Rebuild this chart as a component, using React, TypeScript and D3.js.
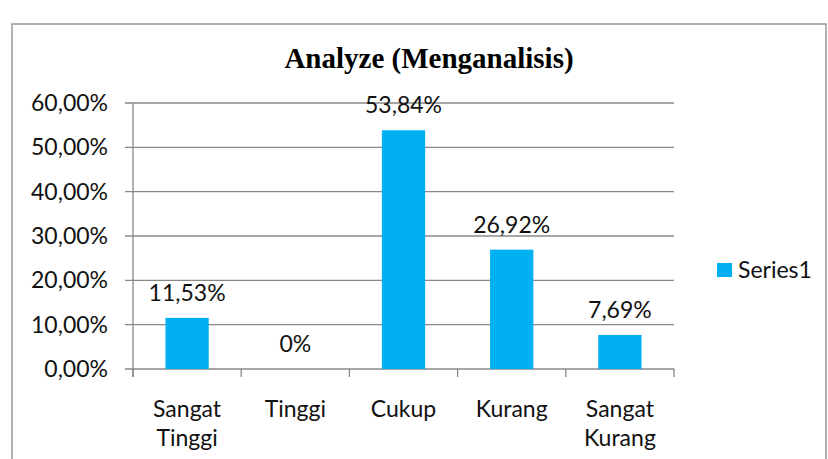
import React, { useEffect, useRef } from "react";
import * as d3 from "d3";

const categories = [["Sangat", "Tinggi"], ["Tinggi"], ["Cukup"], ["Kurang"], ["Sangat", "Kurang"]];
const values = [11.53, 0, 53.84, 26.92, 7.69];
const valueLabels = ["11,53%", "0%", "53,84%", "26,92%", "7,69%"];
const yTicks = [0, 10, 20, 30, 40, 50, 60];
const yTickLabels = ["0,00%", "10,00%", "20,00%", "30,00%", "40,00%", "50,00%", "60,00%"];

const W = 828, H = 459;
const left = 133, right = 674, top = 103, bottom = 369;
const barColor = "#00B0F0";
const font = "Lato, 'Open Sans', sans-serif";
const fs = "23px";

export default function App() {
  const ref = useRef<SVGSVGElement>(null);

  useEffect(() => {
    const svg = d3.select(ref.current);
    svg.selectAll("*").remove();

    // chart border
    svg.append("rect")
      .attr("x", 12).attr("y", 24)
      .attr("width", 814).attr("height", H)
      .attr("fill", "white").attr("stroke", "#888").attr("stroke-width", 1.3);

    svg.append("text")
      .attr("x", 429).attr("y", 68)
      .attr("text-anchor", "middle")
      .style("font-family", "'Liberation Serif', 'Times New Roman', serif")
      .style("font-weight", "bold")
      .style("font-size", "29px")
      .text("Analyze (Menganalisis)");

    const x = d3.scaleBand<number>()
      .domain(d3.range(values.length))
      .range([left, right])
      .paddingInner(0.6).paddingOuter(0.3);
    const band = d3.scaleBand<number>().domain(d3.range(values.length)).range([left, right]);
    const y = d3.scaleLinear().domain([0, 60]).range([bottom, top]);

    // gridlines + y ticks
    yTicks.forEach((t, i) => {
      svg.append("line")
        .attr("x1", left - 8).attr("x2", right)
        .attr("y1", y(t)).attr("y2", y(t))
        .attr("stroke", "#888").attr("stroke-width", 1.3);
      svg.append("text")
        .attr("x", 108).attr("y", y(t) + 8)
        .attr("text-anchor", "end")
        .style("font-family", font).style("font-size", fs)
        .attr("fill", "#111")
        .text(yTickLabels[i]);
    });

    // axes
    svg.append("line")
      .attr("x1", left).attr("x2", left).attr("y1", top).attr("y2", bottom + 8)
      .attr("stroke", "#888").attr("stroke-width", 1.3);
    d3.range(values.length + 1).forEach(i => {
      const xx = i < values.length ? band(i)! : right;
      svg.append("line")
        .attr("x1", xx).attr("x2", xx).attr("y1", bottom).attr("y2", bottom + 8)
        .attr("stroke", "#888").attr("stroke-width", 1.3);
    });

    // bars
    svg.selectAll(".bar").data(values).enter().append("rect")
      .attr("class", "bar")
      .attr("x", (_, i) => x(i)!)
      .attr("width", x.bandwidth())
      .attr("y", d => y(d))
      .attr("height", d => bottom - y(d))
      .attr("fill", barColor);

    // value labels
    values.forEach((v, i) => {
      svg.append("text")
        .attr("x", x(i)! + x.bandwidth() / 2)
        .attr("y", y(v) - 17)
        .attr("text-anchor", "middle")
        .style("font-family", font).style("font-size", fs)
        .attr("fill", "#111")
        .text(valueLabels[i]);
    });

    // category labels
    categories.forEach((lines, i) => {
      lines.forEach((ln, j) => {
        svg.append("text")
          .attr("x", band(i)! + band.bandwidth() / 2)
          .attr("y", 417 + j * 29)
          .attr("text-anchor", "middle")
          .style("font-family", font).style("font-size", fs)
          .attr("fill", "#111")
          .text(ln);
      });
    });

    // legend
    svg.append("rect")
      .attr("x", 717).attr("y", 263).attr("width", 15).attr("height", 14)
      .attr("fill", barColor);
    svg.append("text")
      .attr("x", 738).attr("y", 278)
      .style("font-family", font).style("font-size", fs)
      .attr("fill", "#111")
      .text("Series1");
  }, []);

  return (
    <svg ref={ref} width={W} height={H}
      style={{ position: "absolute", left: 0, top: 0, background: "white" }} />
  );
}
